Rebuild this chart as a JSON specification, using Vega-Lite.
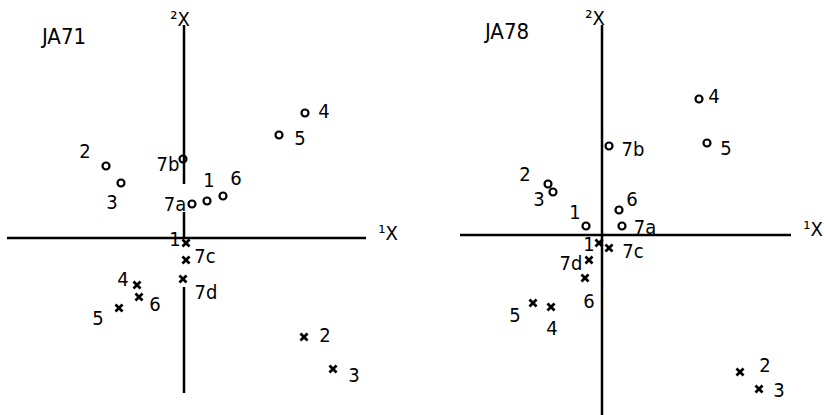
{
  "$schema": "https://vega.github.io/schema/vega-lite/v6.json",
  "padding": 0,
  "background": "white",
  "spacing": 0,
  "config": {
    "view": {"stroke": null},
    "text": {"font": "DejaVu Sans Condensed", "fontSize": 20, "color": "black", "align": "center", "baseline": "middle"}
  },
  "datasets": {
    "points": [
      {"panel": "JA71", "kind": "o", "id": "4", "x": 3.025, "y": 3.125, "lx": 3.5, "ly": 3.15},
      {"panel": "JA71", "kind": "o", "id": "5", "x": 2.375, "y": 2.575, "lx": 2.9, "ly": 2.475},
      {"panel": "JA71", "kind": "o", "id": "7b", "x": -0.025, "y": 1.975, "lx": -0.4, "ly": 1.825},
      {"panel": "JA71", "kind": "o", "id": "2", "x": -1.95, "y": 1.8, "lx": -2.475, "ly": 2.15},
      {"panel": "JA71", "kind": "o", "id": "3", "x": -1.575, "y": 1.375, "lx": -1.8, "ly": 0.875},
      {"panel": "JA71", "kind": "o", "id": "1", "x": 0.575, "y": 0.925, "lx": 0.625, "ly": 1.425},
      {"panel": "JA71", "kind": "o", "id": "6", "x": 0.975, "y": 1.05, "lx": 1.3, "ly": 1.475},
      {"panel": "JA71", "kind": "o", "id": "7a", "x": 0.2, "y": 0.85, "lx": -0.225, "ly": 0.825},
      {"panel": "JA71", "kind": "x", "id": "1", "x": 0.05, "y": -0.125, "lx": -0.225, "ly": -0.05},
      {"panel": "JA71", "kind": "x", "id": "7c", "x": 0.05, "y": -0.55, "lx": 0.525, "ly": -0.475},
      {"panel": "JA71", "kind": "x", "id": "7d", "x": -0.025, "y": -1.025, "lx": 0.55, "ly": -1.375},
      {"panel": "JA71", "kind": "x", "id": "4", "x": -1.175, "y": -1.175, "lx": -1.525, "ly": -1.05},
      {"panel": "JA71", "kind": "x", "id": "6", "x": -1.125, "y": -1.475, "lx": -0.725, "ly": -1.675},
      {"panel": "JA71", "kind": "x", "id": "5", "x": -1.625, "y": -1.75, "lx": -2.15, "ly": -2.025},
      {"panel": "JA71", "kind": "x", "id": "2", "x": 3.0, "y": -2.475, "lx": 3.525, "ly": -2.45},
      {"panel": "JA71", "kind": "x", "id": "3", "x": 3.725, "y": -3.275, "lx": 4.25, "ly": -3.45},

      {"panel": "JA78", "kind": "o", "id": "4", "x": 2.425, "y": 3.4, "lx": 2.8, "ly": 3.45},
      {"panel": "JA78", "kind": "o", "id": "5", "x": 2.625, "y": 2.3, "lx": 3.1, "ly": 2.15},
      {"panel": "JA78", "kind": "o", "id": "7b", "x": 0.175, "y": 2.225, "lx": 0.775, "ly": 2.125},
      {"panel": "JA78", "kind": "o", "id": "2", "x": -1.35, "y": 1.275, "lx": -1.925, "ly": 1.5},
      {"panel": "JA78", "kind": "o", "id": "3", "x": -1.225, "y": 1.075, "lx": -1.575, "ly": 0.875},
      {"panel": "JA78", "kind": "o", "id": "6", "x": 0.425, "y": 0.625, "lx": 0.75, "ly": 0.875},
      {"panel": "JA78", "kind": "o", "id": "1", "x": -0.4, "y": 0.225, "lx": -0.675, "ly": 0.55},
      {"panel": "JA78", "kind": "o", "id": "7a", "x": 0.5, "y": 0.225, "lx": 1.075, "ly": 0.175},
      {"panel": "JA78", "kind": "x", "id": "1", "x": -0.075, "y": -0.2, "lx": -0.325, "ly": -0.25},
      {"panel": "JA78", "kind": "x", "id": "7c", "x": 0.175, "y": -0.325, "lx": 0.775, "ly": -0.425},
      {"panel": "JA78", "kind": "x", "id": "7d", "x": -0.325, "y": -0.625, "lx": -0.775, "ly": -0.725},
      {"panel": "JA78", "kind": "x", "id": "6", "x": -0.425, "y": -1.075, "lx": -0.325, "ly": -1.675},
      {"panel": "JA78", "kind": "x", "id": "5", "x": -1.725, "y": -1.7, "lx": -2.175, "ly": -2.025},
      {"panel": "JA78", "kind": "x", "id": "4", "x": -1.275, "y": -1.8, "lx": -1.25, "ly": -2.35},
      {"panel": "JA78", "kind": "x", "id": "2", "x": 3.45, "y": -3.425, "lx": 4.075, "ly": -3.275},
      {"panel": "JA78", "kind": "x", "id": "3", "x": 3.925, "y": -3.85, "lx": 4.425, "ly": -3.9}
    ],
    "axes": [
      {"panel": "JA71", "x": 0, "y": 5.325, "x2": 0, "y2": 1.35},
      {"panel": "JA71", "x": 0, "y": 0.65, "x2": 0, "y2": 0},
      {"panel": "JA71", "x": 0, "y": -1.225, "x2": 0, "y2": -3.875},
      {"panel": "JA71", "x": -4.425, "y": 0, "x2": 4.55, "y2": 0},
      {"panel": "JA78", "x": 0, "y": 5.25, "x2": 0, "y2": -4.5},
      {"panel": "JA78", "x": -3.55, "y": 0, "x2": 4.725, "y2": 0}
    ],
    "notes": [
      {"panel": "JA71", "role": "axis", "text": "²X", "x": -0.1, "y": 5.45},
      {"panel": "JA71", "role": "axis", "text": "¹X", "x": 5.1, "y": 0.1},
      {"panel": "JA71", "role": "title", "text": "JA71", "x": -3.0, "y": 5.025},
      {"panel": "JA78", "role": "axis", "text": "²X", "x": -0.175, "y": 5.4},
      {"panel": "JA78", "role": "axis", "text": "¹X", "x": 5.275, "y": 0.125},
      {"panel": "JA78", "role": "title", "text": "JA78", "x": -2.375, "y": 5.075}
    ]
  },
  "hconcat": [
    {
      "width": 412,
      "height": 415,
      "encoding": {
        "x": {"field": "x", "type": "quantitative", "scale": {"domain": [-4.6, 5.7], "nice": false, "zero": false}, "axis": null},
        "y": {"field": "y", "type": "quantitative", "scale": {"domain": [-4.425, 5.95], "nice": false, "zero": false}, "axis": null}
      },
      "layer": [
        {
          "data": {"name": "axes"},
          "transform": [{"filter": "datum.panel === 'JA71'"}],
          "mark": {"type": "rule", "color": "black", "strokeWidth": 2.5},
          "encoding": {"x2": {"field": "x2"}, "y2": {"field": "y2"}}
        },
        {
          "data": {"name": "points"},
          "transform": [{"filter": "datum.panel === 'JA71' && datum.kind === 'o'"}],
          "mark": {"type": "point", "shape": "circle", "size": 49, "filled": false, "color": "black", "strokeWidth": 2.2, "opacity": 1}
        },
        {
          "data": {"name": "points"},
          "transform": [{"filter": "datum.panel === 'JA71' && datum.kind === 'x'"}],
          "mark": {"type": "point", "shape": "M-1,-1L1,1M-1,1L1,-1", "size": 50, "filled": false, "color": "black", "strokeWidth": 2.7, "opacity": 1}
        },
        {
          "data": {"name": "points"},
          "transform": [{"filter": "datum.panel === 'JA71'"}],
          "mark": {"type": "text"},
          "encoding": {
            "x": {"field": "lx", "type": "quantitative", "scale": {"domain": [-4.6, 5.7], "nice": false, "zero": false}, "axis": null},
            "y": {"field": "ly", "type": "quantitative", "scale": {"domain": [-4.425, 5.95], "nice": false, "zero": false}, "axis": null},
            "text": {"field": "id"}
          }
        },
        {
          "data": {"name": "notes"},
          "transform": [{"filter": "datum.panel === 'JA71' && datum.role === 'axis'"}],
          "mark": {"type": "text", "fontSize": 20},
          "encoding": {"text": {"field": "text"}}
        },
        {
          "data": {"name": "notes"},
          "transform": [{"filter": "datum.panel === 'JA71' && datum.role === 'title'"}],
          "mark": {"type": "text", "fontSize": 22},
          "encoding": {"text": {"field": "text"}}
        }
      ]
    },
    {
      "width": 412,
      "height": 415,
      "encoding": {
        "x": {"field": "x", "type": "quantitative", "scale": {"domain": [-4.75, 5.55], "nice": false, "zero": false}, "axis": null},
        "y": {"field": "y", "type": "quantitative", "scale": {"domain": [-4.5, 5.875], "nice": false, "zero": false}, "axis": null}
      },
      "layer": [
        {
          "data": {"name": "axes"},
          "transform": [{"filter": "datum.panel === 'JA78'"}],
          "mark": {"type": "rule", "color": "black", "strokeWidth": 2.5},
          "encoding": {"x2": {"field": "x2"}, "y2": {"field": "y2"}}
        },
        {
          "data": {"name": "points"},
          "transform": [{"filter": "datum.panel === 'JA78' && datum.kind === 'o'"}],
          "mark": {"type": "point", "shape": "circle", "size": 49, "filled": false, "color": "black", "strokeWidth": 2.2, "opacity": 1}
        },
        {
          "data": {"name": "points"},
          "transform": [{"filter": "datum.panel === 'JA78' && datum.kind === 'x'"}],
          "mark": {"type": "point", "shape": "M-1,-1L1,1M-1,1L1,-1", "size": 50, "filled": false, "color": "black", "strokeWidth": 2.7, "opacity": 1}
        },
        {
          "data": {"name": "points"},
          "transform": [{"filter": "datum.panel === 'JA78'"}],
          "mark": {"type": "text"},
          "encoding": {
            "x": {"field": "lx", "type": "quantitative", "scale": {"domain": [-4.75, 5.55], "nice": false, "zero": false}, "axis": null},
            "y": {"field": "ly", "type": "quantitative", "scale": {"domain": [-4.5, 5.875], "nice": false, "zero": false}, "axis": null},
            "text": {"field": "id"}
          }
        },
        {
          "data": {"name": "notes"},
          "transform": [{"filter": "datum.panel === 'JA78' && datum.role === 'axis'"}],
          "mark": {"type": "text", "fontSize": 20},
          "encoding": {"text": {"field": "text"}}
        },
        {
          "data": {"name": "notes"},
          "transform": [{"filter": "datum.panel === 'JA78' && datum.role === 'title'"}],
          "mark": {"type": "text", "fontSize": 22},
          "encoding": {"text": {"field": "text"}}
        }
      ]
    }
  ]
}
